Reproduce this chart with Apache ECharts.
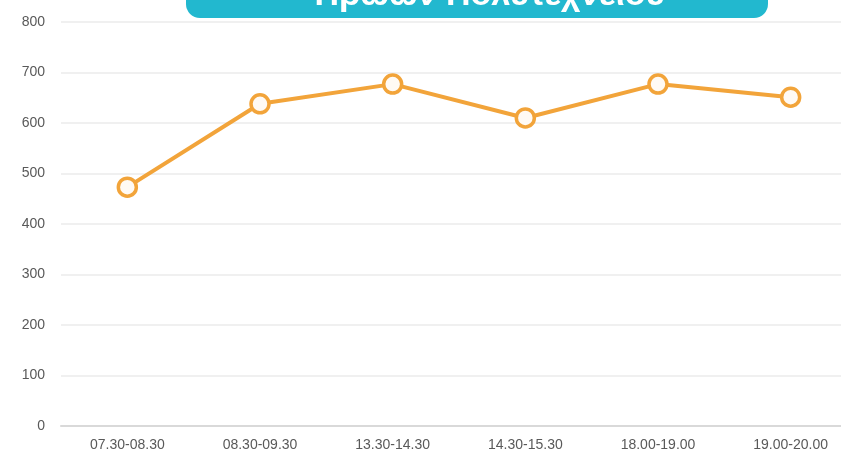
<!DOCTYPE html>
<html>
<head>
<meta charset="utf-8">
<script src="https://cdn.jsdelivr.net/npm/echarts@6/dist/echarts.min.js"></script>
<style>
  html, body { margin: 0; padding: 0; background: #fff; }
  #myChart { width: 841px; height: 456px; }
</style>
</head>
<body>
<div id="myChart"></div>
<script>
// time slots and values
const categories = ['07.30-08.30', '08.30-09.30', '13.30-14.30', '14.30-15.30', '18.00-19.00', '19.00-20.00']
const values = [473, 638, 677, 610, 677, 651]
const titleText = 'Ηρώων Πολυτεχνείου'

const labelFont = '"Liberation Sans Narrow", "Arial Narrow", "Liberation Sans", Arial, sans-serif'

const myChart = echarts.init(document.getElementById('myChart'))
const option = {
  animation: false,
  grid: {
    left: 61,
    top: 22,
    right: -16,
    bottom: 30,
    outerBoundsMode: 'none'
  },
  graphic: [
    {
      type: 'rect',
      shape: { x: 186, y: -40, width: 582, height: 58, r: 14 },
      style: { fill: '#22b8cf' }
    },
    {
      type: 'text',
      x: 490,
      y: 13,
      style: {
        text: titleText,
        fill: '#fff',
        font: 'bold 34px "Liberation Sans", Arial, sans-serif',
        textAlign: 'center',
        textVerticalAlign: 'bottom'
      }
    }
  ],
  xAxis: {
    type: 'category',
    data: categories,
    boundaryGap: true,
    axisLine: { lineStyle: { color: '#d9d9d9', width: 2 } },
    axisTick: { show: false },
    axisLabel: {
      color: '#595959',
      fontSize: 14,
      fontFamily: labelFont,
      margin: 12
    }
  },
  yAxis: {
    type: 'value',
    min: 0,
    max: 800,
    interval: 100,
    axisLine: { show: false },
    axisTick: { show: false },
    axisLabel: {
      color: '#595959',
      fontSize: 14,
      fontFamily: labelFont,
      margin: 16
    },
    splitLine: { lineStyle: { color: '#ebebeb', width: 1.5 } }
  },
  series: [
    {
      type: 'line',
      data: values,
      symbol: 'circle',
      symbolSize: 18,
      lineStyle: { color: '#f2a43a', width: 4 },
      itemStyle: { color: '#fffaf4', borderColor: '#f2a43a', borderWidth: 3.5 }
    }
  ]
}
myChart.setOption(option)
</script>
</body>
</html>
